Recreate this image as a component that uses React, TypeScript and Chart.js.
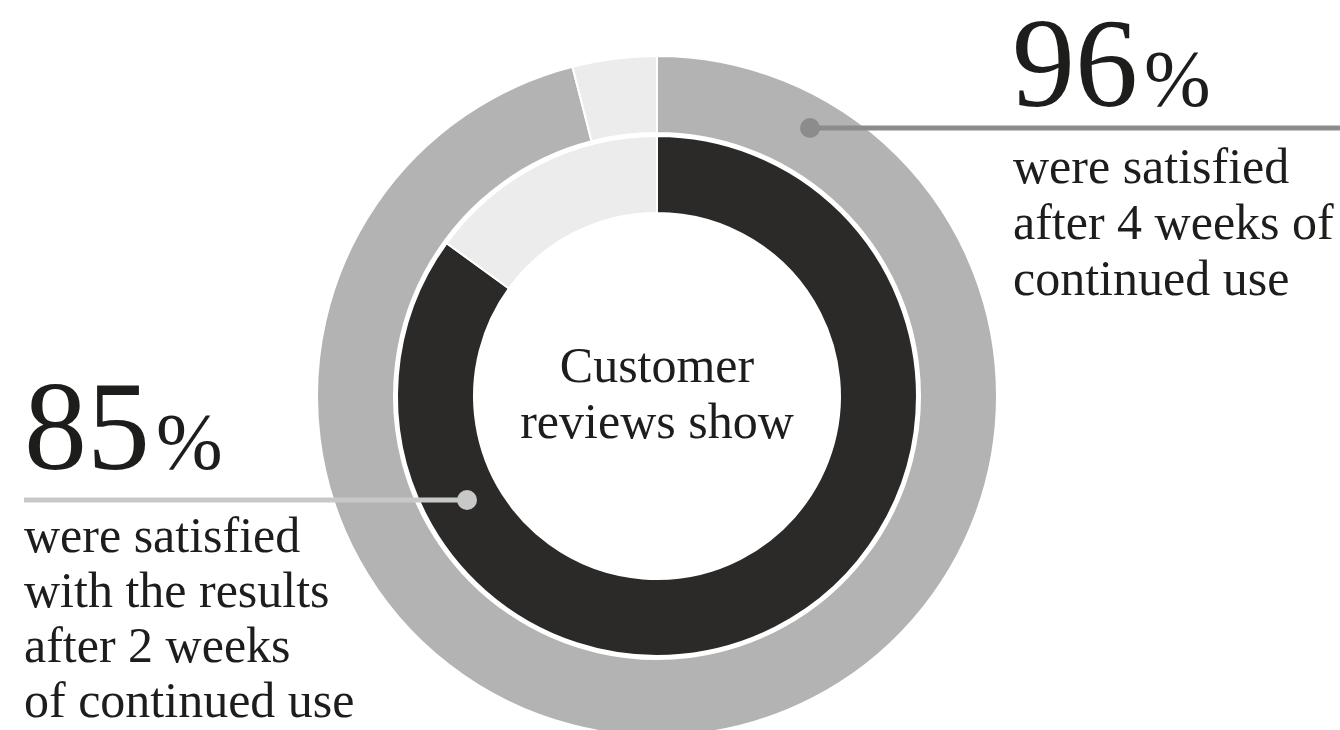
import React, { useEffect, useRef } from "react";
import { Chart, registerables } from "chart.js";

Chart.register(...registerables);

// ---- Data ----
const categories = ["Satisfied", "Not satisfied"];
const week4Values = [96, 4];
const week2Values = [85, 15];
const spacerValues = [100];

const headlineWeek4 = "96";
const headlineWeek2 = "85";
const percentSign = "%";
const centerLines = ["Customer", "reviews show"];
const week4Lines = ["were satisfied", "after 4 weeks of", "continued use"];
const week2Lines = ["were satisfied", "with the results", "after 2 weeks", "of continued use"];

// ---- Styles ----
const OUTER_GRAY = "#b2b3b2";
const DARK = "#2b2a29";
const LIGHT = "#ebeceb";
const TEXT = "#1d1d1b";
const FONT = '"Liberation Serif", "Times New Roman", serif';

const annotationPlugin = {
  id: "annotations",
  afterDraw(chart: any) {
    const ctx = chart.ctx as CanvasRenderingContext2D;
    ctx.save();

    // leader lines + dots
    const drawLeader = (x1: number, x2: number, y: number, dotX: number, color: string) => {
      ctx.strokeStyle = color;
      ctx.lineWidth = 5;
      ctx.beginPath();
      ctx.moveTo(x1, y);
      ctx.lineTo(x2, y);
      ctx.stroke();
      ctx.fillStyle = color;
      ctx.beginPath();
      ctx.arc(dotX, y, 10, 0, Math.PI * 2);
      ctx.fill();
    };
    drawLeader(810, 1340, 128, 810, "#8c8c8c");
    drawLeader(24, 467, 500, 467, "#c7c9c8");

    ctx.fillStyle = TEXT;
    ctx.textBaseline = "alphabetic";

    // headlines
    const drawHeadline = (num: string, x: number, y: number) => {
      ctx.textAlign = "left";
      ctx.font = `126px ${FONT}`;
      ctx.fillText(num, x, y);
      const w = ctx.measureText(num).width;
      ctx.font = `80px ${FONT}`;
      ctx.fillText(percentSign, x + w + 6, y);
    };
    drawHeadline(headlineWeek4, 1012, 106);
    drawHeadline(headlineWeek2, 24, 469);

    // body text
    ctx.font = `50px ${FONT}`;
    ctx.textAlign = "left";
    const rightBase = [183, 239, 295];
    week4Lines.forEach((t, i) => ctx.fillText(t, 1013, rightBase[i]));
    const leftBase = [552, 607, 662, 717];
    week2Lines.forEach((t, i) => ctx.fillText(t, 24, leftBase[i]));

    ctx.textAlign = "center";
    const centerBase = [382, 438];
    centerLines.forEach((t, i) => ctx.fillText(t, 657, centerBase[i]));

    ctx.restore();
  },
};

export default function App() {
  const ref = useRef<HTMLCanvasElement>(null);
  useEffect(() => {
    if (!ref.current) return;
    const chart = new Chart(ref.current, {
      type: "doughnut",
      data: {
        labels: categories,
        datasets: [
          {
            label: "After 4 weeks",
            data: week4Values,
            backgroundColor: [OUTER_GRAY, LIGHT],
            borderColor: "#ffffff",
            borderWidth: 2,
            weight: 77,
            clip: false,
          } as any,
          {
            label: "spacer",
            data: spacerValues,
            backgroundColor: ["rgba(0,0,0,0)"],
            borderWidth: 0,
            weight: 3,
            clip: false,
          } as any,
          {
            label: "After 2 weeks",
            data: week2Values,
            backgroundColor: [DARK, LIGHT],
            borderColor: "#ffffff",
            borderWidth: 2,
            weight: 77,
            clip: false,
          } as any,
        ],
      },
      options: {
        responsive: false,
        animation: false,
        radius: 340,
        cutout: "53.82%",
        layout: { padding: { left: 357, right: 383, top: 96, bottom: 34 } },
        plugins: {
          legend: { display: false },
          tooltip: { enabled: false },
        },
      } as any,
      plugins: [annotationPlugin],
    });
    return () => chart.destroy();
  }, []);

  return (
    <div
      style={{
        position: "fixed",
        left: 0,
        top: 0,
        width: 1340,
        height: 730,
        overflow: "hidden",
        background: "#ffffff",
      }}
    >
      <canvas ref={ref} width={1340} height={730} style={{ display: "block" }} />
    </div>
  );
}
